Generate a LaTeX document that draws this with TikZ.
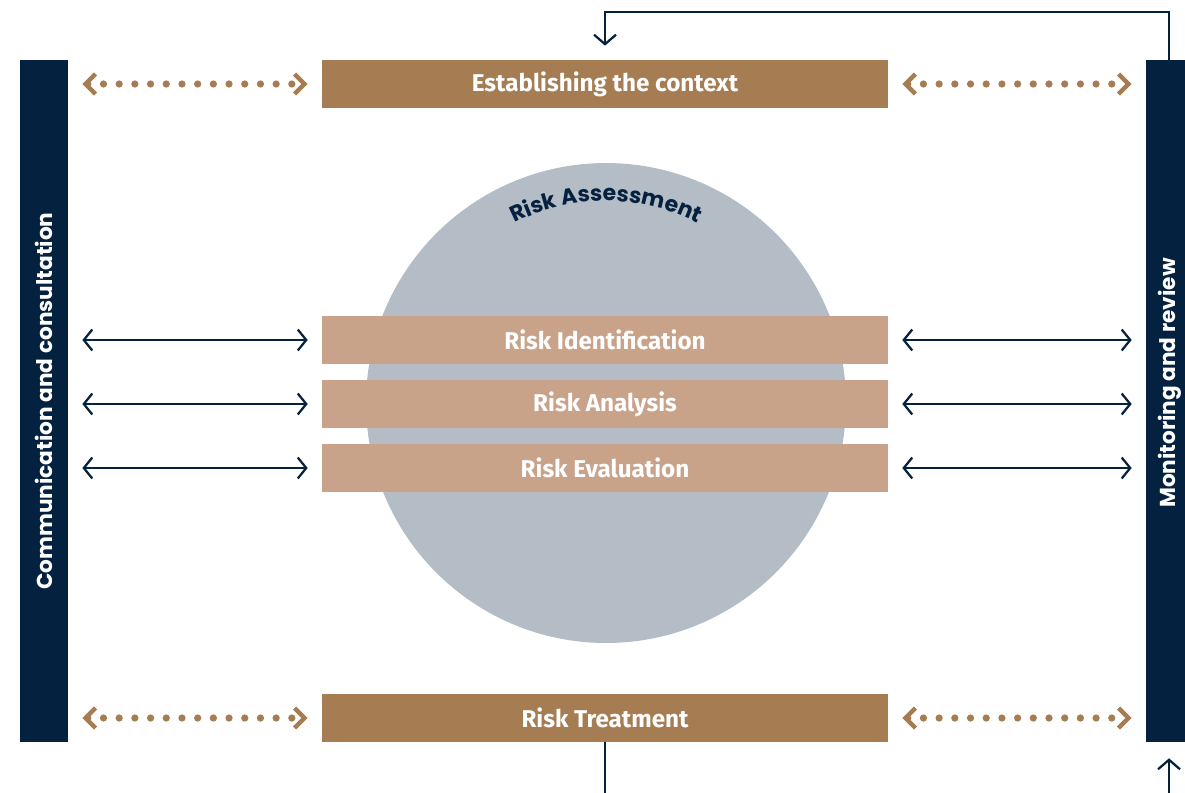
\documentclass[tikz,border=0pt]{standalone}
\usepackage{fontspec}
\setmainfont{Fira Sans}
\newfontfamily\geofont{Poppins}
\usetikzlibrary{arrows.meta,decorations.text}
\definecolor{navy}{HTML}{04213F}
\definecolor{bronze}{HTML}{A67C52}
\definecolor{sand}{HTML}{C8A38A}
\definecolor{slate}{HTML}{B4BCC6}
\tikzset{
  barbtip/.tip={Straight Barb[length=0.17cm,width=0.42cm,line width=0.045cm]},
  chevtip/.tip={Straight Barb[length=0.2cm,width=0.40cm,line width=0.09cm]},
}
\begin{document}
\begin{tikzpicture}[x=0.02cm,y=-0.02cm,
  sidebar/.style={fill=navy, rotate=90, minimum width=13.64cm, minimum height=0.96cm, inner sep=0pt, text=white, font=\geofont\bfseries\fontsize{12.3}{14}\selectfont},
  mainbox/.style={fill=bronze, minimum width=11.32cm, minimum height=0.96cm, inner sep=0pt, text=white, font=\bfseries\fontsize{13.8}{16}\selectfont},
  subbox/.style={mainbox, fill=sand},
  dotlink/.style={draw=bronze, line width=0.145cm, line cap=round, dash pattern=on 0cm off 0.314cm, shorten <=0.28cm, shorten >=0.28cm, chevtip-chevtip},
  dbllink/.style={draw=navy, line width=0.04cm, shorten <=0.28cm, shorten >=0.28cm, barbtip-barbtip},
  flowline/.style={draw=navy, line width=0.04cm},
]
\useasboundingbox (0,0) rectangle (1185,792);

% circle
\node[circle, fill=slate, minimum size=9.6cm, inner sep=0pt] (ra) at (606,403) {};
\path[decorate, decoration={text along path, text align=center,
  text={|\geofont\bfseries\fontsize{12.5}{14}\selectfont\color{navy}|Risk Assessment}}]
  (ra.center) ++(120:4.04cm) arc[start angle=120, end angle=60, radius=4.04cm];

% bars
\node[sidebar] (cc) at (44,401) {Communication and consultation};
\node[sidebar] (mr) at (1170,401) {\hspace*{0.72cm}Monitoring and review};

% boxes
\node[mainbox] (ec) at (605,84) {Establishing the context};
\node[subbox] (ri) at (605,340) {Risk Identification};
\node[subbox] (ran) at (605,404) {Risk Analysis};
\node[subbox] (rev) at (605,468) {Risk Evaluation};
\node[mainbox] (rt) at (605,718) {Risk Treatment};

% dotted links
\draw[dotlink] (cc.south |- ec.west) -- (ec.west);
\draw[dotlink] (ec.east) -- (mr.north |- ec.east);
\draw[dotlink] (cc.south |- rt.west) -- (rt.west);
\draw[dotlink] (rt.east) -- (mr.north |- rt.east);

% double arrows
\foreach \b in {ri,ran,rev}{
  \draw[dbllink] (cc.south |- \b.west) -- (\b.west);
  \draw[dbllink] (\b.east) -- (mr.north |- \b.east);
}

% feedback loop
\coordinate (topturn) at (1169,12);
\coordinate (botend) at (605,800);
\coordinate (botstart) at (1169,800);
\draw[flowline, -{Straight Barb[length=0.19cm,width=0.44cm,line width=0.045cm]}]
  (mr.east -| topturn) -- (topturn) -| ([yshift=0.28cm]ec.north);
\draw[flowline] (rt.south) -- (botend);
\draw[flowline, -{Straight Barb[length=0.19cm,width=0.44cm,line width=0.045cm]}]
  (botstart) -- ([yshift=-0.32cm]mr.west -| botstart);
\end{tikzpicture}
\end{document}
